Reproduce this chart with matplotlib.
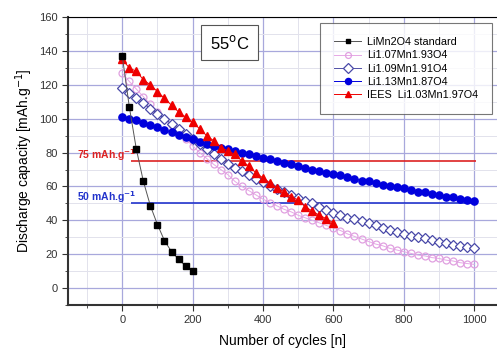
import matplotlib
matplotlib.use('Agg')
import matplotlib.pyplot as plt
from matplotlib.ticker import MultipleLocator
import numpy as np

plt.rcParams['font.family'] = ['Liberation Sans', 'DejaVu Sans']

# cycles
x20 = np.arange(0, 1001, 20)
x_std = np.arange(0, 201, 20)
x_iees = np.arange(0, 601, 20)

# LiMn2O4 standard
std = [137, 107, 82, 63, 48.5, 37.5, 28, 21.5, 17, 13, 10]

# Li1.07Mn1.93O4
li107 = [127, 122, 117.5, 113, 108.5, 104, 100, 96, 92, 88,
         84, 80, 76.5, 73, 70, 67, 63, 60, 57.5, 55,
         52.5, 50.5, 48.5, 46.5, 45, 43, 41.5, 40, 38.5, 37,
         35.5, 34, 32, 30.5, 29, 27.5, 26, 25, 23.5, 22.5,
         21.5, 20.5, 19.5, 19, 18, 17.5, 16.5, 16, 15, 14.5, 14]

# Li1.09Mn1.91O4
li109 = [118, 115, 112, 109, 106, 103, 100, 97, 94, 91,
         88, 85, 82, 79, 76, 73.5, 71, 69, 66.5, 64.5,
         62.5, 60.5, 58.5, 56.5, 55, 53, 51.5, 50, 48, 46,
         44.5, 43, 41.5, 40.5, 39.5, 38.5, 37, 35.5, 34.5, 33,
         32, 31, 30, 29.5, 28.5, 27.5, 26.5, 25.5, 25, 24, 23.5]

# Li1.13Mn1.87O4
li113 = [101, 100, 99, 97.5, 96, 95, 93.5, 92, 90.5, 89,
         88, 86.5, 85, 84, 83, 82, 81, 80, 79, 78,
         77, 76, 75, 74, 73, 72, 71, 70, 69, 68,
         67.5, 66.5, 65.5, 64.5, 63.5, 63, 62, 61, 60.5, 59.5,
         59, 58, 57, 56.5, 55.5, 55, 54, 53.5, 52.5, 52, 51.5]

# IEES Li1.03Mn1.97O4
iees = [135, 130, 128, 123, 120, 116, 112, 108, 104, 101,
        98, 94, 90, 87, 83, 81, 79, 75, 72, 68,
        65, 62, 59, 57, 54, 52, 48, 45.5, 43, 41, 38.5]

fig = plt.figure(figsize=(4.97, 3.49), dpi=100)
ax = fig.add_axes([0.137, 0.126, 0.863, 0.825])

ax.plot(x_std, std, color='#555555', lw=0.7, marker='s', ms=4,
        mfc='black', mec='black', label='LiMn2O4 standard', zorder=5)
ax.plot(x20, li107, color='#e6a8e6', lw=0.7, marker='o', ms=5,
        mfc='none', mec='#e0a0e0', mew=0.9, label='Li1.07Mn1.93O4', zorder=3)
ax.plot(x20, li109, color='#5050a8', lw=0.7, marker='D', ms=5.5,
        mfc='white', mec='#4848a8', mew=0.9, label='Li1.09Mn1.91O4', zorder=3)
ax.plot(x20, li113, color='#0000dd', lw=0.7, marker='o', ms=5.2,
        mfc='#0000dd', mec='#0000dd', label='Li1.13Mn1.87O4', zorder=4)
ax.plot(x_iees, iees, color='#ee0000', lw=0.7, marker='^', ms=5.5,
        mfc='#ee0000', mec='#ee0000', label='IEES  Li1.03Mn1.97O4', zorder=4)

# capacity limits
ax.hlines(75, 25, 1005, color='#dd2222', lw=1.2, zorder=2)
ax.hlines(50, 25, 1005, color='#2233cc', lw=1.2, zorder=2)
ax.text(-128, 78.5, '75 mAh.g$^{\\mathbf{-1}}$', color='#dd2222', fontsize=7.5,
        fontweight='bold', va='center', ha='left')
ax.text(-128, 53.5, '50 mAh.g$^{\\mathbf{-1}}$', color='#2233cc', fontsize=7.5,
        fontweight='bold', va='center', ha='left')

ax.text(305, 145, '55$^{\\mathrm{o}}$C', fontsize=12, ha='center', va='center',
        bbox=dict(boxstyle='square,pad=0.5', fc='white', ec='#555555', lw=0.8),
        zorder=6)

ax.set_xlim(-154, 1065)
ax.set_ylim(-10, 160)
ax.xaxis.set_major_locator(MultipleLocator(200))
ax.xaxis.set_minor_locator(MultipleLocator(100))
ax.yaxis.set_major_locator(MultipleLocator(20))
ax.yaxis.set_minor_locator(MultipleLocator(10))
ax.set_xticks([0, 200, 400, 600, 800, 1000])

ax.grid(which='major', color='#a8a8dc', lw=0.9, zorder=0)
ax.grid(which='minor', color='#e2e2ec', lw=0.7, zorder=0)
ax.set_axisbelow(True)

for s in ['left', 'bottom']:
    ax.spines[s].set_linewidth(1.5)
    ax.spines[s].set_color('#333333')
ax.spines['top'].set_linewidth(0.8)
ax.spines['right'].set_visible(False)
ax.tick_params(which='both', direction='out', labelsize=8, colors='#333333',
               top=False, right=False)
ax.tick_params(which='major', length=4)
ax.tick_params(which='minor', length=2)

ax.set_xlabel('Number of cycles [n]', fontsize=10, labelpad=6)
ax.set_ylabel('Discharge capacity [mAh.g$^{-1}$]', fontsize=10, labelpad=3)

leg = ax.legend(loc='upper right', bbox_to_anchor=(0.988, 0.979), fontsize=7.8,
                frameon=True, fancybox=False, edgecolor='#555555',
                handlelength=2.5, labelspacing=0.3, borderpad=1.3,
                handletextpad=0.5, borderaxespad=0, markerscale=0.85)
leg.get_frame().set_linewidth(0.8)
leg.set_zorder(7)

plt.savefig('out.png', dpi=100)
